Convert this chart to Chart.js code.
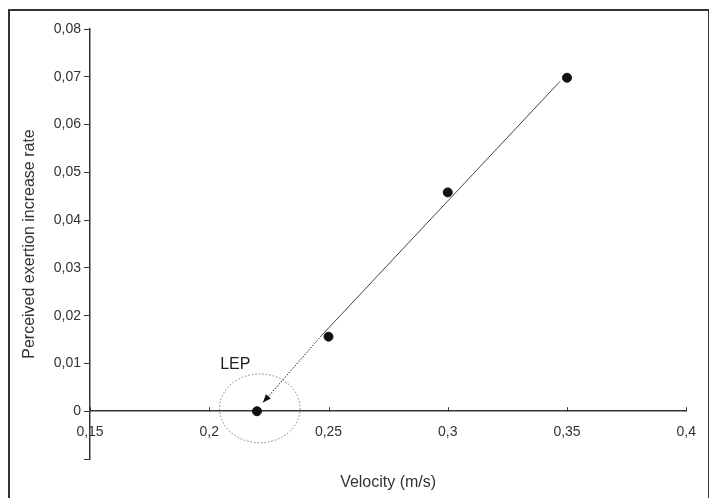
<!DOCTYPE html>
<html>
<head>
<meta charset="utf-8">
<script src="https://cdn.jsdelivr.net/npm/chart.js@4/dist/chart.umd.min.js"></script>
<style>
  html, body { margin: 0; padding: 0; background: #fff; overflow: hidden; }
  #wrap { position: relative; width: 709px; height: 498px; }
  #frame { position: absolute; left: 8px; top: 9px; width: 698px; height: 600px;
           border: 2px solid #333; pointer-events: none; }
  canvas { position: absolute; left: 0; top: 0; }
</style>
</head>
<body>
<div id="wrap">
  <canvas id="chart" width="709" height="498"></canvas>
  <div id="frame"></div>
</div>
<script>
// measured points (velocity m/s, perceived exertion increase rate)
const velocity = [0.22, 0.25, 0.30, 0.35];
const exertionRate = [0, 0.0156, 0.0458, 0.0698];

// fitted line, solid part and dotted extrapolation down to LEP
const fitSolidX = [0.347, 0.247];
const fitSolidY = [0.069, 0.0158];
const fitDotX = [0.247, 0.2225];
const fitDotY = [0.0158, 0.0018];

// LEP ellipse (centre and radii in data units) and label anchor
const lepCentre = [0.2212, 0.0006];
const lepRadius = [0.0169, 0.0072];
const lepLabel = ['LEP', 0.2046, 0.0098];

const xTicks = [0.15, 0.2, 0.25, 0.3, 0.35, 0.4];
const xTickLabels = ['0,15', '0,2', '0,25', '0,3', '0,35', '0,4'];
const yTicks = [-0.01, 0, 0.01, 0.02, 0.03, 0.04, 0.05, 0.06, 0.07, 0.08];
const yTickLabels = ['', '0', '0,01', '0,02', '0,03', '0,04', '0,05', '0,06', '0,07', '0,08'];

const xTitle = 'Velocity (m/s)';
const yTitle = 'Perceived exertion increase rate';

const INK = '#333';
const FONT = '"Liberation Sans", Arial, sans-serif';

const pts = (xs, ys) => xs.map((x, i) => ({ x, y: ys[i] }));

// extra drawing: upward x tick marks, arrowhead, LEP ellipse + label, x title
const extras = {
  id: 'extras',
  afterDatasetsDraw(chart) {
    const { ctx, scales: { x, y }, chartArea } = chart;
    const y0 = y.getPixelForValue(0);
    ctx.save();

    // x tick marks point up from the axis
    ctx.strokeStyle = INK;
    ctx.lineWidth = 1;
    xTicks.forEach((v) => {
      const px = Math.round(x.getPixelForValue(v)) + 0.5;
      ctx.beginPath(); ctx.moveTo(px, y0); ctx.lineTo(px, y0 - 4); ctx.stroke();
    });

    // arrowhead at the end of the dotted extrapolation
    const n = fitDotX.length;
    const ax = x.getPixelForValue(fitDotX[n - 1]), ay = y.getPixelForValue(fitDotY[n - 1]);
    const bx = x.getPixelForValue(fitDotX[n - 2]), by = y.getPixelForValue(fitDotY[n - 2]);
    const ang = Math.atan2(ay - by, ax - bx);
    const len = 9, half = 0.38;
    ctx.fillStyle = '#111';
    ctx.beginPath();
    ctx.moveTo(ax, ay);
    ctx.lineTo(ax - len * Math.cos(ang - half), ay - len * Math.sin(ang - half));
    ctx.lineTo(ax - len * Math.cos(ang + half), ay - len * Math.sin(ang + half));
    ctx.closePath();
    ctx.fill();

    // dotted ellipse around LEP
    const cx = x.getPixelForValue(lepCentre[0]), cy = y.getPixelForValue(lepCentre[1]);
    const rx = Math.abs(x.getPixelForValue(lepCentre[0] + lepRadius[0]) - cx);
    const ry = Math.abs(y.getPixelForValue(lepCentre[1] + lepRadius[1]) - cy);
    ctx.strokeStyle = '#777';
    ctx.setLineDash([1.5, 2]);
    ctx.beginPath(); ctx.ellipse(cx, cy, rx, ry, 0, 0, Math.PI * 2); ctx.stroke();
    ctx.setLineDash([]);

    // LEP label
    ctx.fillStyle = '#222';
    ctx.font = `16px ${FONT}`;
    ctx.textAlign = 'left';
    ctx.textBaseline = 'middle';
    ctx.fillText(lepLabel[0], x.getPixelForValue(lepLabel[1]), y.getPixelForValue(lepLabel[2]));

    // x axis title
    ctx.fillStyle = INK;
    ctx.font = `16px ${FONT}`;
    ctx.textAlign = 'center';
    ctx.fillText(xTitle, (chartArea.left + chartArea.right) / 2, 483);
    ctx.restore();
  },
};

new Chart(document.getElementById('chart'), {
  type: 'scatter',
  data: {
    datasets: [
      { type: 'line', data: pts(fitSolidX, fitSolidY), borderColor: '#444', borderWidth: 1,
        pointRadius: 0, fill: false },
      { type: 'line', data: pts(fitDotX, fitDotY), borderColor: '#222', borderWidth: 1,
        borderDash: [1.5, 1.5], pointRadius: 0, fill: false },
      { data: pts(velocity, exertionRate), backgroundColor: '#111', borderColor: '#111',
        pointRadius: 4.5 },
    ],
  },
  options: {
    responsive: false,
    animation: false,
    layout: { padding: { left: 16, right: 20, top: 29, bottom: 39 } },
    plugins: { legend: { display: false }, tooltip: { enabled: false } },
    scales: {
      x: {
        type: 'linear',
        position: { y: 0 },
        min: 0.15,
        max: 0.4,
        afterBuildTicks: (s) => { s.ticks = xTicks.map((value) => ({ value })); },
        ticks: { callback: (v, i) => xTickLabels[i], color: INK, padding: 13,
                 font: { family: FONT, size: 14 }, maxRotation: 0, autoSkip: false },
        grid: { display: true, drawOnChartArea: false, drawTicks: false },
        border: { color: INK, width: 1.5 },
      },
      y: {
        type: 'linear',
        position: 'left',
        min: -0.01,
        max: 0.08,
        afterBuildTicks: (s) => { s.ticks = yTicks.map((value) => ({ value })); },
        afterFit: (s) => { s.width = 74; },
        ticks: { callback: (v, i) => yTickLabels[i], color: INK, padding: 3,
                 font: { family: FONT, size: 14 }, autoSkip: false },
        grid: { drawOnChartArea: false, tickLength: 6, color: INK, tickWidth: 1 },
        border: { color: INK, width: 1.5 },
        title: { display: true, text: yTitle, color: INK, padding: { top: 4, bottom: 0 },
                 font: { family: FONT, size: 16 } },
      },
    },
  },
  plugins: [extras],
});
</script>
</body>
</html>
